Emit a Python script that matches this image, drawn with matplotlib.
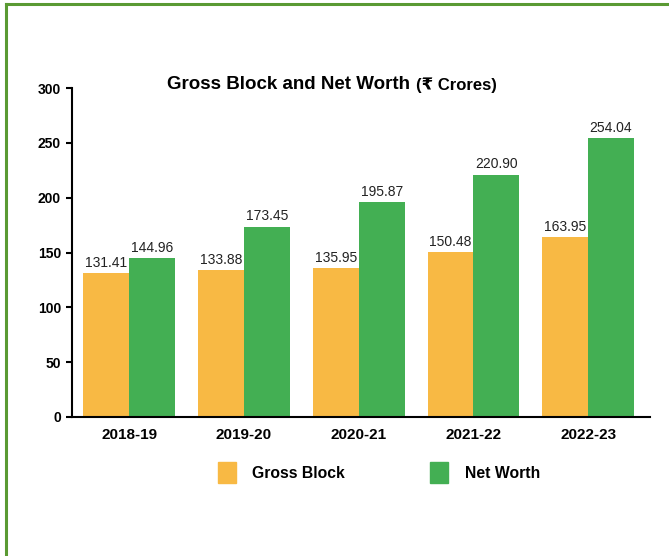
import matplotlib.pyplot as plt
import numpy as np
from matplotlib.patches import Rectangle

years = ['2018-19', '2019-20', '2020-21', '2021-22', '2022-23']
gross_block = [131.41, 133.88, 135.95, 150.48, 163.95]
net_worth = [144.96, 173.45, 195.87, 220.90, 254.04]

orange = '#F8B944'
green = '#43AF53'

plt.rcParams['font.family'] = ['Liberation Sans', 'DejaVu Sans']

fig = plt.figure(figsize=(6.69, 5.56), dpi=100)
ax = fig.add_axes([72 / 669, 1 - 417 / 556, 578 / 669, 329 / 556])

x = np.arange(len(years))
w = 0.4
ax.bar(x - w / 2, gross_block, w, color=orange, label='Gross Block')
ax.bar(x + w / 2, net_worth, w, color=green, label='Net Worth')

for i in range(len(years)):
    ax.text(x[i] - w / 2, gross_block[i] + 3, f'{gross_block[i]:.2f}',
            ha='center', va='bottom', fontsize=10, color='#222222')
    ax.text(x[i] + w / 2, net_worth[i] + 3, f'{net_worth[i]:.2f}',
            ha='center', va='bottom', fontsize=10, color='#222222')

ax.set_ylim(0, 300)
ax.set_xlim(-0.5, 4.54)
ax.set_yticks(range(0, 301, 50))
ax.set_xticks(x)
ax.set_xticklabels(years, fontweight='bold', fontsize=11)
for lbl in ax.get_yticklabels():
    lbl.set_fontweight('bold')
    lbl.set_fontsize(10)
ax.tick_params(axis='y', length=4, width=1.5, pad=4)
ax.tick_params(axis='x', length=0, pad=8)
ax.spines['top'].set_visible(False)
ax.spines['right'].set_visible(False)
ax.spines['left'].set_linewidth(1.5)
ax.spines['bottom'].set_linewidth(1.5)

# Title (bold part + smaller part)
fig.text(410 / 669, 1 - 85 / 556, 'Gross Block and Net Worth', ha='right', va='center',
         fontsize=13.5, fontweight='bold')
fig.text(416 / 669, 1 - 85 / 556, '(₹ Crores)', ha='left', va='center',
         fontsize=12, fontweight='bold', family=['Liberation Sans', 'DejaVu Sans'])

# Legend drawn as boxes + labels
fig.patches.append(Rectangle((218 / 669, 1 - 483 / 556), 18 / 669, 21 / 556,
                             transform=fig.transFigure, color=orange))
fig.text(252 / 669, 1 - 473 / 556, 'Gross Block', ha='left', va='center',
         fontsize=11.3, fontweight='bold')
fig.patches.append(Rectangle((430 / 669, 1 - 483 / 556), 18 / 669, 21 / 556,
                             transform=fig.transFigure, color=green))
fig.text(465 / 669, 1 - 473 / 556, 'Net Worth', ha='left', va='center',
         fontsize=11.3, fontweight='bold')

# Green frame on top and left
fig.add_artist(plt.Line2D([5.5 / 669, 5.5 / 669], [0, 1 - 4 / 556], transform=fig.transFigure,
                          color='#5A9A33', linewidth=2.2))
fig.add_artist(plt.Line2D([5.5 / 669, 1], [1 - 4 / 556, 1 - 4 / 556], transform=fig.transFigure,
                          color='#5A9A33', linewidth=2.2))

fig.savefig('out.png', dpi=100)
